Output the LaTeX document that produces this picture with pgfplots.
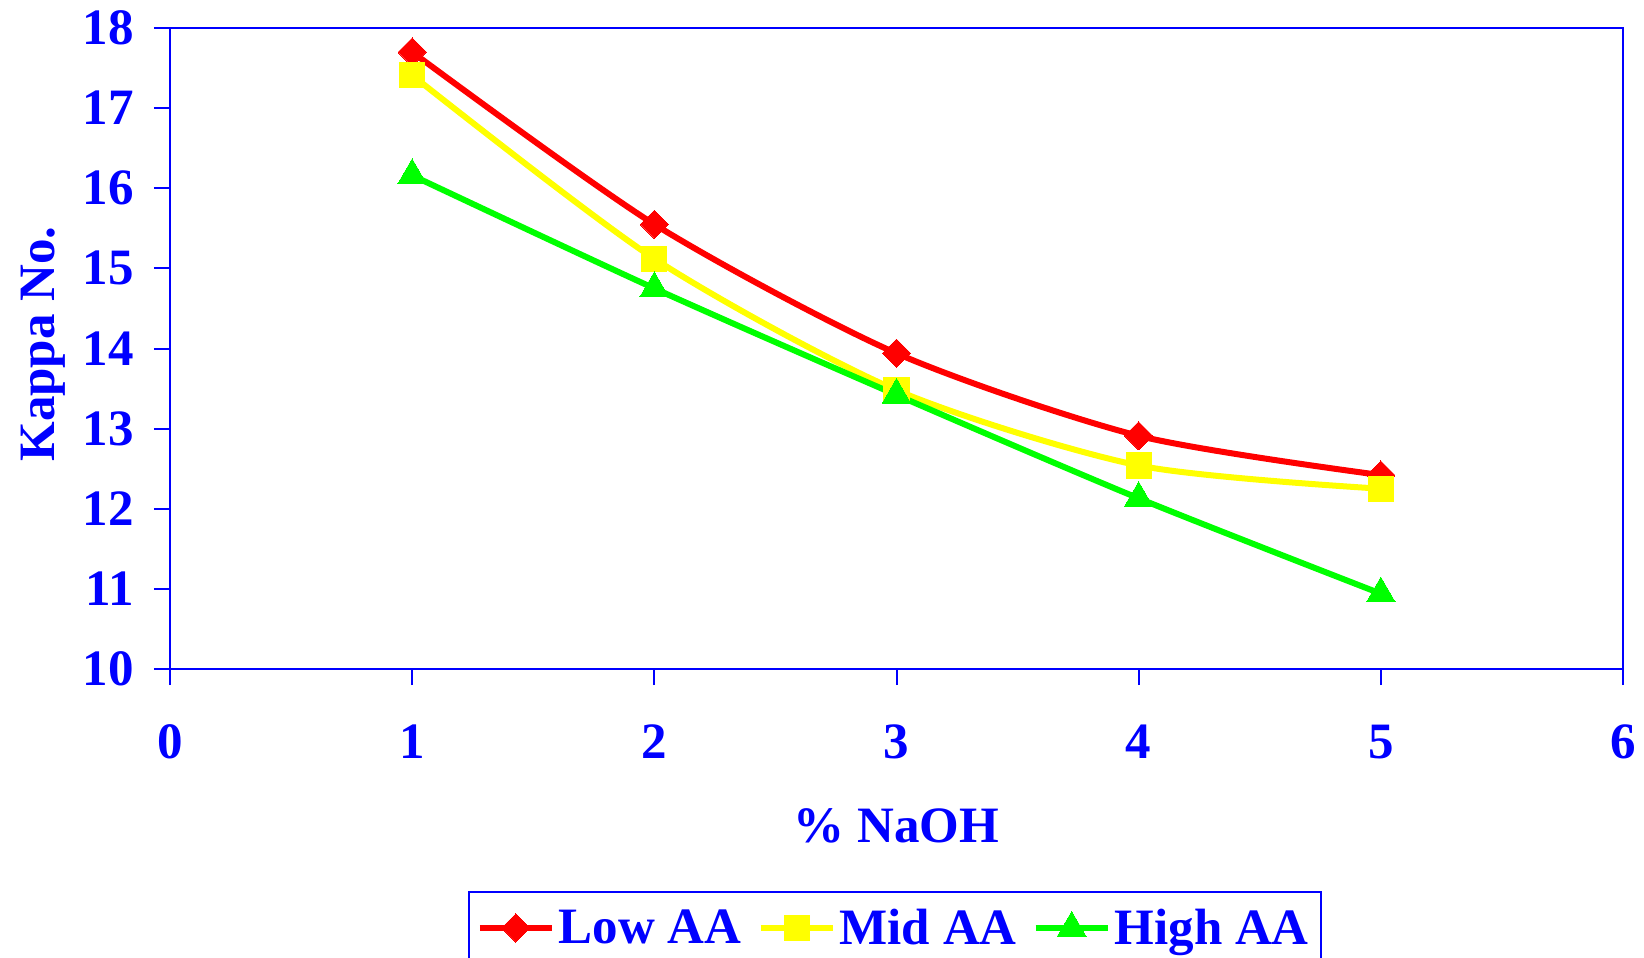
\documentclass[border=0pt]{standalone}
\usepackage{fontspec}
\setmainfont{Liberation Serif}
\usepackage{pgfplots}
\pgfplotsset{compat=1.18}
\definecolor{xblue}{RGB}{0,0,255}
\definecolor{xred}{RGB}{255,0,0}
\definecolor{xyellow}{RGB}{255,255,0}
\definecolor{xgreen}{RGB}{0,255,0}
\begin{document}
\begin{tikzpicture}
\begin{axis}[
  at={(0,0)}, anchor=south west,
  scale only axis, width=726.5pt, height=320.5pt,
  xmin=0, xmax=6, ymin=10, ymax=18,
  xtick={0,1,2,3,4,5,6}, ytick={10,11,12,13,14,15,16,17,18},
  axis line style={xblue, line width=1pt},
  every tick/.style={xblue, line width=1pt},
  tick align=outside, major tick length=8pt,
  xtick pos=bottom, ytick pos=left,
  /pgf/number format/assume math mode=true,
  ticklabel style={font=\fontsize{25.5}{30}\selectfont\bfseries, text=xblue},
  xticklabel style={anchor=center, yshift=-28.5pt},
  yticklabel style={anchor=east, xshift=-6.5pt},
  label style={font=\fontsize{25.5}{30}\selectfont\bfseries, text=xblue},
  xlabel={\% NaOH},
  xlabel style={at={(axis description cs:0.5,-0.245)}, anchor=center},
  ylabel={Kappa No.},
  ylabel style={at={(axis description cs:-0.0875,0.507)}, anchor=center},
  legend columns=3,
  legend cell align=left,
  legend style={at={(axis description cs:0.205,-0.346)}, anchor=north west,
    draw=xblue, line width=1pt, font=\fontsize{25.5}{30}\selectfont\bfseries,
    text=xblue, inner xsep=4pt, inner ysep=6.5pt,
    /tikz/every even column/.append style={column sep=6pt}},
  legend image code/.code={\draw[#1, mark repeat=2, mark phase=2] plot coordinates {(0pt,0pt) (18pt,0pt) (36pt,0pt)};},
]
\addplot[xred, line width=3pt, smooth, tension=0.45, mark=square*, mark size=5pt, mark options={rotate=45, fill=xred, draw=xred, line width=0pt}]
  coordinates {(1,17.70) (2,15.55) (3,13.94) (4,12.91) (5,12.42)};
\addlegendentry{Low AA}
\addplot[xyellow, line width=3pt, smooth, tension=0.45, mark=square*, mark size=6.3pt, mark options={fill=xyellow, draw=xyellow, line width=0pt}]
  coordinates {(1,17.41) (2,15.12) (3,13.48) (4,12.54) (5,12.25)};
\addlegendentry{Mid AA}
\addplot[xgreen, line width=3pt, smooth, tension=0.45, mark=triangle*, mark size=8.3pt, mark options={fill=xgreen, draw=xgreen, line width=0pt}]
  coordinates {(1,16.16) (2,14.75) (3,13.42) (4,12.13) (5,10.94)};
\addlegendentry{High AA}
\end{axis}
\pgfresetboundingbox
\useasboundingbox (-85pt,-144.5pt) rectangle (737pt,334.5pt);
\end{tikzpicture}
\end{document}
